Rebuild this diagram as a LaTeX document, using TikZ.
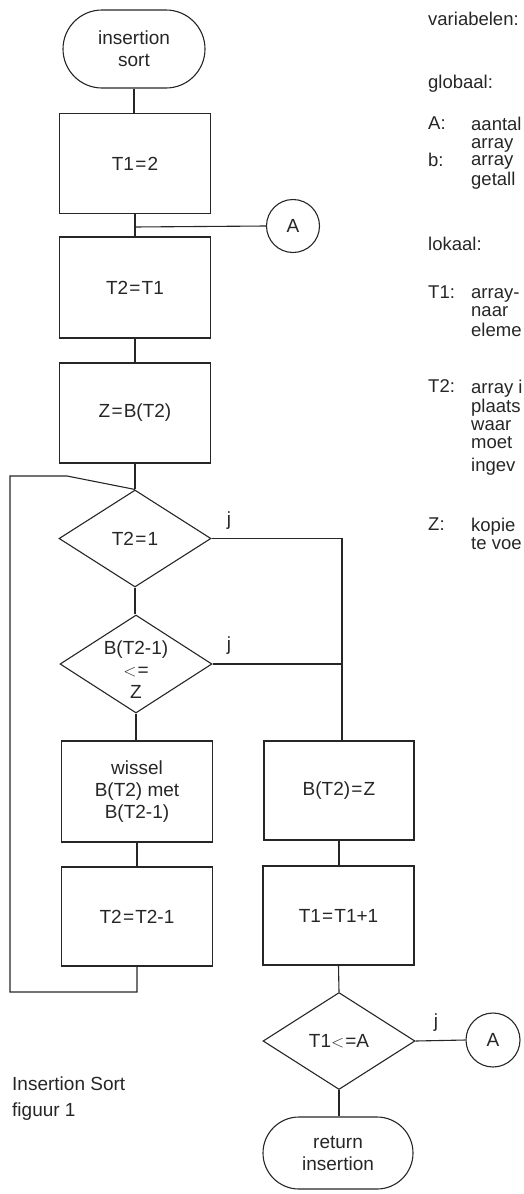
\documentclass[tikz,border=0pt]{standalone}
\usepackage{fontspec}
\setmainfont{Liberation Sans}
\usetikzlibrary{shapes.geometric}
\newcommand{\Eq}{\kern1.2pt=\kern1.2pt}
\begin{document}
\begin{tikzpicture}[x=1pt,y=-1pt,
  every node/.style={font=\fontsize{19}{22}\selectfont, text=black!85},
  ln/.style={line width=1.1pt, draw=black!85},
  proc/.style={ln, rectangle, minimum width=151pt, minimum height=100pt, inner sep=0pt, align=center},
  term/.style={ln, rectangle, align=center, inner sep=0pt},
  dec/.style={ln, diamond, minimum width=152pt, minimum height=97pt, inner sep=0pt},
  conn/.style={ln, circle, minimum size=53pt, inner sep=0pt},
  note/.style={anchor=north west, inner sep=0pt, align=left, font=\fontsize{18.5}{18}\selectfont},
  jlab/.style={anchor=base, inner sep=0pt}
]
\useasboundingbox (0,0) rectangle (523,1194);

% left column
\node[term, minimum width=142pt, minimum height=78pt, rounded corners=39pt] (start) at (134,49) {insertion\\sort};
\node[proc] (b1) at (135,163.5) {T1\Eq2};
\node[proc, minimum height=101pt] (b2) at (135,287.5) {T2\Eq T1};
\node[proc] (b3) at (135,413) {Z\Eq B(T2)};
\node[dec] (d1) at (135,538.5) {};
\node at (135,538.5) {T2\Eq1};
\node[dec, minimum height=98pt] (d2) at (136,664) {};
\node[align=center] at (136,670) {B(T2-1)\\$<$\kern1pt=\\Z};
\node[proc, minimum height=101pt] (b4) at (137,791.5) {wissel\\B(T2) met\\B(T2-1)};
\node[proc, minimum height=99pt] (b5) at (137,916.5) {T2\Eq T2-1};

% right column
\node[proc, minimum width=150pt, minimum height=99pt] (b6) at (339,790.5) {B(T2)\Eq Z};
\node[proc, minimum width=151pt, minimum height=99pt] (b7) at (338.5,915.5) {T1\Eq T1+1};
\node[dec] (d3) at (339,1041) {};
\node at (339,1041) {T1$<$\kern1pt=A};
\node[term, minimum width=150pt, minimum height=72pt, rounded corners=36pt] (ret) at (338,1153) {return\\insertion};

% connectors
\node[conn] (A1) at (293,226) {A};
\node[conn, minimum size=54pt] (A2) at (493,1040) {A};

\coordinate (j1) at (134,227);
\draw[ln] (start.south) -- (start.south |- b1.north);
\draw[ln] (b1.south) -- (b1.south |- b2.north);
\draw[ln] (j1) -- (A1.west);
\draw[ln] (b2.south) -- (b3.north);
\draw[ln] (b3.south) -- (d1.north);
\draw[ln] (d1.south) -- (d1.south |- d2.north);
\draw[ln] (d2.south) -- (d2.south |- b4.north);
\draw[ln] (b4.south) -- (b5.north);
\draw[ln] (b6.south) -- (b6.south |- b7.north);
\draw[ln] (b7.south) -- (d3.north);
\draw[ln] (d3.south) -- (d3.south |- ret.north);
\draw[ln] (d3.east) -- (A2.west);

% loop back
\coordinate (L1) at (10,992);
\coordinate (L2) at (10,476);
\coordinate (L3) at (67,476);
\draw[ln] (b5.south) -- (b5.south |- L1) -- (L1) -- (L2) -- (L3) -- (d1.north);

% yes branches
\coordinate (R1) at (342,538.5);
\draw[ln] (d1.east) -- (R1) -- (R1 |- b6.north);
\draw[ln] (d2.east) -- (d2.east -| R1);

\node[jlab] (jy1) at (229,525) {j};
\node[jlab] (jy2) at (229,650) {j};
\node[jlab] (jy3) at (436,1027) {j};

% caption
\node[anchor=north west, inner sep=0pt, align=left, font=\fontsize{19}{26}\selectfont] (cap) at (12,1077) {Insertion Sort\\figuur 1};

% variables text (as far as the reference shows it, cut at the right edge)
\node[note] (var) at (428,11.4) {\strut variabelen:};
\node[note] (glob) at (428,74.4) {\strut globaal:};
\node[note] (lA) at (428,116.4) {\strut A:};
\node[note] (tA) at (471,116.4) {\strut aantal\\\strut array};
\node[note] (lb) at (428,152.4) {\strut b:};
\node[note] (tb) at (471,152.4) {\strut array\\\strut getall};
\node[note] (lok) at (428,236.4) {\strut lokaal:};
\node[note] (lT1) at (428,285.4) {\strut T1:};
\node[note] (tT1) at (471,285.4) {\strut array-\\\strut naar\\\strut eleme};
\node[note] (lT2) at (428,379.4) {\strut T2:};
\node[note] (tT2) at (471,379.4) {\strut array i\\\strut plaats\\\strut waar\\\strut moet\\[3pt]\strut ingev};
\node[note] (lZ) at (428,517.4) {\strut Z:};
\node[note] (tZ) at (471,517.4) {\strut kopie\\\strut te voe};
\end{tikzpicture}
\end{document}
